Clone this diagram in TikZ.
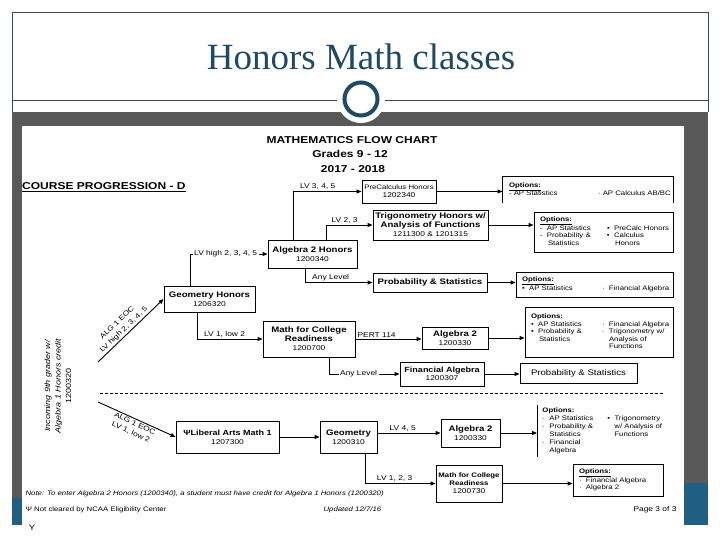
\documentclass[tikz,border=0pt]{standalone}
\usepackage{fontspec}
\setmainfont{Liberation Serif}
\newfontfamily\chartfont[FakeStretch=1.2]{Liberation Sans}
\usetikzlibrary{arrows.meta}
\definecolor{slideblue}{RGB}{31,73,101}
\definecolor{slidegray}{RGB}{89,89,89}
\definecolor{footblue}{RGB}{33,94,132}
\definecolor{rulegray}{RGB}{60,75,85}
\newcommand{\ccode}[1]{{\mdseries\fontsize{7}{8}\selectfont #1}}

\begin{document}
\begin{tikzpicture}[
    x=1pt, y=-1pt,
    course/.style={draw, line width=0.9pt, align=center, inner sep=1pt, font=\chartfont\fontsize{8}{9}\selectfont\bfseries},
    option/.style={draw, line width=0.9pt, align=left, inner xsep=6pt, inner ysep=2pt, font=\chartfont\fontsize{6.5}{7.5}\selectfont},
    lbl/.style={font=\chartfont\fontsize{7}{8}\selectfont, inner sep=1.5pt},
    head/.style={font=\chartfont\fontsize{10}{11}\selectfont\bfseries},
    foot/.style={anchor=west, font=\chartfont\fontsize{6.5}{7}\selectfont},
    arr/.style={line width=0.9pt, -{Triangle[length=5pt,width=4pt]}}
]
\useasboundingbox (0,0) rectangle (720,540);
\fill[white] (0,0) rectangle (720,540);

% slide frame
\draw[rulegray, line width=0.8pt] (12,112) |- (708,12) -- (708,112);
\draw[rulegray, line width=0.8pt] (12,100) -- (708,100);
\fill[slidegray] (12,112) rectangle (708,525);
\fill[footblue] (684,483) rectangle (708,525);
\fill[footblue] (12,498) rectangle (22,525);
\fill[white] (22,126) rectangle (684,535);
\fill[white] (361,99) circle (24);
\draw[slideblue, line width=4pt] (361,99) circle (16.5);
\node[font=\fontsize{37}{40}\selectfont, text=slideblue] (title) at (361,57) {Honors Math classes};

% chart heading
\node[head] (head1) at (352,140) {MATHEMATICS FLOW CHART};
\node[head] (head2) at (350,154) {Grades 9 - 12};
\node[head] (head3) at (353,169) {2017 - 2018};
\node[head, anchor=west, inner sep=0pt] (prog) at (22,187) {\underline{COURSE PROGRESSION - D}};

% courses
\node[course, minimum width=74, minimum height=23, font=\chartfont\fontsize{6.5}{8}\selectfont] (precalc) at (399,191.5) {PreCalculus Honors\\\ccode{1202340}};
\node[course, minimum width=115, minimum height=30] (trig) at (430.5,225) {Trigonometry Honors w/\\Analysis of Functions\\\ccode{1211300 \& 1201315}};
\node[course, minimum width=89, minimum height=28] (alg2h) at (312.5,254) {Algebra 2 Honors\\\ccode{1200340}};
\node[course, minimum width=91, minimum height=26] (geoh) at (209.5,299) {Geometry Honors\\\ccode{1206320}};
\node[course, minimum width=114, minimum height=19] (probmid) at (430,282.5) {Probability \& Statistics};
\node[course, minimum width=92, minimum height=36] (mcr) at (309,339) {Math for College\\Readiness\\\ccode{1200700}};
\node[course, minimum width=66, minimum height=22] (alg2mid) at (455,338) {Algebra 2\\\ccode{1200330}};
\node[course, minimum width=84, minimum height=24, font=\chartfont\fontsize{7.5}{8.5}\selectfont\bfseries] (finalg) at (442,374) {Financial Algebra\\\ccode{1200307}};
\node[course, minimum width=117, minimum height=20, font=\chartfont\fontsize{8}{9}\selectfont] (probbot) at (578.5,373) {Probability \& Statistics};
\node[course, minimum width=103, minimum height=32, font=\chartfont\fontsize{7.5}{9}\selectfont\bfseries] (lam) at (227.5,437) {ΨLiberal Arts Math 1\\\ccode{1207300}};
\node[course, minimum width=57, minimum height=32] (geo) at (348.5,437) {Geometry\\\ccode{1200310}};
\node[course, minimum width=59, minimum height=28] (alg2bot) at (470.5,433) {Algebra 2\\\ccode{1200330}};
\node[course, minimum width=66, minimum height=37, font=\chartfont\fontsize{6.5}{8}\selectfont\bfseries] (mcr2) at (469,483.5) {Math for College\\Readiness\\\ccode{1200730}};

% options
\node[option, draw=none, text width=158, minimum height=26] (opt1) at (588,190) {%
  \begin{tabular}{@{}p{89pt}@{}l@{}}
  \underline{\textbf{Options:}} & \\
  - AP Statistics & · AP Calculus AB/BC
  \end{tabular}};
\draw[line width=0.9pt] (opt1.south west) |- (opt1.north east) -- (opt1.south east);
\node[option, text width=127, minimum height=40] (opt2) at (603.5,232) {%
  \begin{tabular}{@{}p{67pt}@{}l@{}}
  \underline{\textbf{Options:}} & \\
  - \ AP Statistics & \textbullet\ \ PreCalc Honors \\
  - \ Probability \& & \textbullet\ \ Calculus \\
  \hspace*{8pt}Statistics & \hspace*{8pt}Honors
  \end{tabular}};
\node[option, text width=145, minimum height=25] (opt3) at (594.5,284.5) {%
  \begin{tabular}{@{}p{80pt}@{}l@{}}
  \underline{\textbf{Options:}} & \\
  \textbullet\ \ AP Statistics & · \ Financial Algebra
  \end{tabular}};
\node[option, text width=136, minimum height=50] (opt4) at (599,332) {%
  \begin{tabular}{@{}p{71pt}@{}l@{}}
  \textbf{Options:} & \\
  \textbullet\ \ AP Statistics & · \ Financial Algebra \\
  \textbullet\ \ Probability \& & · \ Trigonometry w/ \\
  \hspace*{8pt}Statistics & \hspace*{7pt}Analysis of \\
   & \hspace*{7pt}Functions
  \end{tabular}};
\node[option, draw=none, anchor=west, inner xsep=5pt, text width=125, minimum height=52, font=\chartfont\fontsize{6.5}{8}\selectfont] (optcol) at (537,431) {%
  \begin{tabular}{@{}p{65pt}@{}l@{}}
  \textbf{Options:} & \\
  · \ AP Statistics & \textbullet\ \ Trigonometry \\
  · \ Probability \& & \hspace*{7pt}w/ Analysis of \\
  \hspace*{7pt}Statistics & \hspace*{7pt}Functions \\
  · \ Financial & \\
  \hspace*{7pt}Algebra &
  \end{tabular}};
\draw[line width=0.9pt] (optcol.north west) -- (optcol.south west);
\node[option, text width=78, minimum height=32] (opt6) at (618,480) {%
  \begin{tabular}{@{}l@{}}
  \underline{\textbf{Options:}} \\
  · \ Financial Algebra \\
  · \ Algebra 2
  \end{tabular}};

% incoming student
\node[rotate=90, align=center, font=\chartfont\fontsize{7.5}{10.5}\selectfont] (inc) at (58,386) {{\itshape Incoming 9th grader w/}\\{\itshape Algebra 1 Honors credit}\\1200320};
\coordinate (in1) at (98,362);
\coordinate (in2) at (98,402);

% honors track
\draw[arr] (in1) -- node[lbl, sloped, above, align=center, pos=0.45]{ALG 1 EOC\\[1.5pt]LV high 2, 3, 4, 5} (geoh.west);
\draw[arr] ([xshift=-19.5]geoh.north) |- node[lbl, fill=white, pos=0.73]{LV high 2, 3, 4, 5} (alg2h.west);
\draw[arr] ([xshift=-19.5]alg2h.north) |- node[lbl, above, pos=0.68]{LV 3, 4, 5} (precalc.west);
\draw[arr] ([xshift=13.5]alg2h.north) |- node[lbl, above, pos=0.7]{LV 2, 3} (trig.west);
\draw[arr] ([xshift=-7.5]alg2h.south) |- node[lbl, above, pos=0.69]{Any Level} (probmid.west);
\draw[arr] ([xshift=-12.5]geoh.south) |- node[lbl, above, pos=0.71]{LV 1, low 2} (mcr.west);
\draw[arr] (mcr.east) -- node[lbl, above, pos=0.32]{PERT 114} (mcr.east -| alg2mid.west);
\draw[arr] ([xshift=20]mcr.south) |- node[lbl, fill=white, pos=0.71]{Any Level} (finalg.west);
\draw[arr] (precalc.east) -- (precalc.east -| opt1.west);
\draw[arr] (trig.east) -- (trig.east -| opt2.west);
\draw[arr] (probmid.east) -- (probmid.east -| opt3.west);
\draw[arr] (alg2mid.east) -- (alg2mid.east -| opt4.west);
\draw[arr] (finalg.east) -- (finalg.east -| probbot.west);

\draw[dashed, line width=0.7pt, dash pattern=on 3pt off 2pt] (100,393) -- (663,393);

% liberal arts track
\draw[arr] (in2) -- node[lbl, sloped, below, align=center]{ALG 1 EOC\\[1.5pt]LV 1, low 2} (lam.west);
\draw[arr] (lam.east) -- (lam.east -| geo.west);
\draw[arr] (alg2bot.west -| geo.east) -- node[lbl, above, pos=0.4]{LV 4, 5} (alg2bot.west);
\draw[arr] ([xshift=16.5]geo.south) |- node[lbl, above, pos=0.71]{LV 1, 2, 3} (mcr2.west);
\draw[arr] (alg2bot.east) -- (alg2bot.east -| optcol.west);
\draw[arr] (mcr2.east) -- (mcr2.east -| opt6.west);

% footer
\node[foot, font=\chartfont\fontsize{6.5}{7}\selectfont\itshape] (note) at (22,494) {Note: To enter Algebra 2 Honors (1200340), a student must have credit for Algebra 1 Honors (1200320)};
\node[foot] (ncaa) at (22,510) {Ψ Not cleared by NCAA Eligibility Center};
\node[foot, font=\chartfont\fontsize{6.5}{7}\selectfont\itshape] (upd) at (320,510) {Updated 12/7/16};
\node[foot, anchor=east, font=\chartfont\fontsize{7}{8}\selectfont] (page) at (680,510) {Page 3 of 3};
\node[font=\chartfont\fontsize{8}{9}\selectfont] (ymark) at (32,528) {Y};
\end{tikzpicture}
\end{document}
